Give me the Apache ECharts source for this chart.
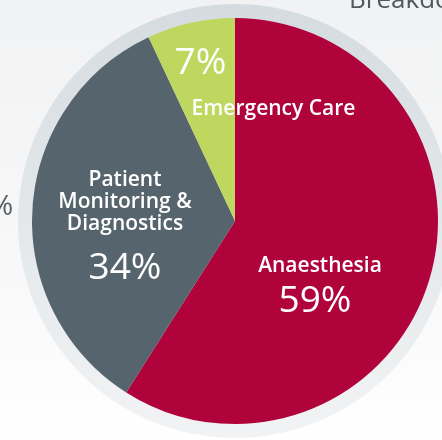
<!DOCTYPE html>
<html>
<head>
<meta charset="utf-8">
<script src="https://cdn.jsdelivr.net/npm/echarts@6/dist/echarts.min.js"></script>
<style>
  html, body { margin: 0; padding: 0; background: #fff; }
  #chart { width: 442px; height: 440px; }
</style>
</head>
<body>
<div id="chart"></div>
<script>
// slices, clockwise from 12 o'clock
const segments = ['Anaesthesia', 'Patient\nMonitoring &\nDiagnostics', 'Emergency Care']
const shares = [59, 34, 7]
const colors = ['#b0033c', '#56646e', '#bfd75f']

const font = 'Open Sans'

// label block placement (centre of each label)
const labelPos = [[320, 290], [125, 235], [265, 75]]

const chart = echarts.init(document.getElementById('chart'))

const data = segments.map((name, i) => ({
  name: name,
  value: shares[i],
  itemStyle: { color: colors[i] }
}))

const option = {
  backgroundColor: {
    type: 'linear', x: 0, y: 0, x2: 0, y2: 1,
    colorStops: [
      { offset: 0, color: '#f1f2f3' },
      { offset: 0.6, color: '#f8f8f9' },
      { offset: 1, color: '#ffffff' }
    ]
  },
  animation: false,
  graphic: [
    {
      type: 'text', left: 349, top: -12,
      style: { text: 'Breakdown', font: '26px "Open Sans"', fill: '#4e5961' }
    },
    {
      type: 'text', left: -10, top: 193,
      style: { text: '%', font: '28px "Open Sans"', fill: '#555d63' }
    }
  ],
  series: [
    {
      // outer grey rim
      type: 'pie',
      silent: true,
      radius: [0, 217],
      center: [235, 221],
      label: { show: false },
      labelLine: { show: false },
      itemStyle: {
        color: {
          type: 'linear', x: 0, y: 0, x2: 0, y2: 1,
          colorStops: [
            { offset: 0, color: '#d5dce0' },
            { offset: 0.6, color: '#e6eaec' },
            { offset: 1, color: '#f2f3f4' }
          ]
        }
      },
      data: [1]
    },
    {
      type: 'pie',
      radius: [0, 203],
      center: [235, 221],
      startAngle: 90,
      clockwise: true,
      silent: true,
      itemStyle: { borderWidth: 0 },
      label: {
        show: true,
        position: 'inside',
        color: '#fff',
        fontFamily: font,
        formatter: function (p) {
          if (p.dataIndex === 2) {
            return '{seven|' + p.value + '%}\n{em|' + p.name + '}'
          }
          const big = p.dataIndex === 1 ? 'bigTall' : 'big'
          return '{name|' + p.name + '}\n{' + big + '|' + p.value + '%}'
        },
        rich: {
          name: { fontFamily: font, fontSize: 21, fontWeight: 600, lineHeight: 22, color: '#fff', align: 'center' },
          big: { fontFamily: font, fontSize: 37, lineHeight: 48, color: '#fff', align: 'center', padding: [0, 10, 0, 0] },
          bigTall: { fontFamily: font, fontSize: 37, lineHeight: 66, color: '#fff', align: 'center' },
          seven: { fontFamily: font, fontSize: 37, lineHeight: 68, color: '#fff', align: 'left' },
          em: { fontFamily: font, fontSize: 21, fontWeight: 600, lineHeight: 24, color: '#fff', align: 'left', padding: [0, 0, 0, 17] }
        }
      },
      labelLayout: function (p) {
        const pos = labelPos[p.dataIndex]
        return { x: pos[0], y: pos[1], align: 'center', verticalAlign: 'middle' }
      },
      labelLine: { show: false },
      data: data
    }
  ]
}

chart.setOption(option)
</script>
</body>
</html>
